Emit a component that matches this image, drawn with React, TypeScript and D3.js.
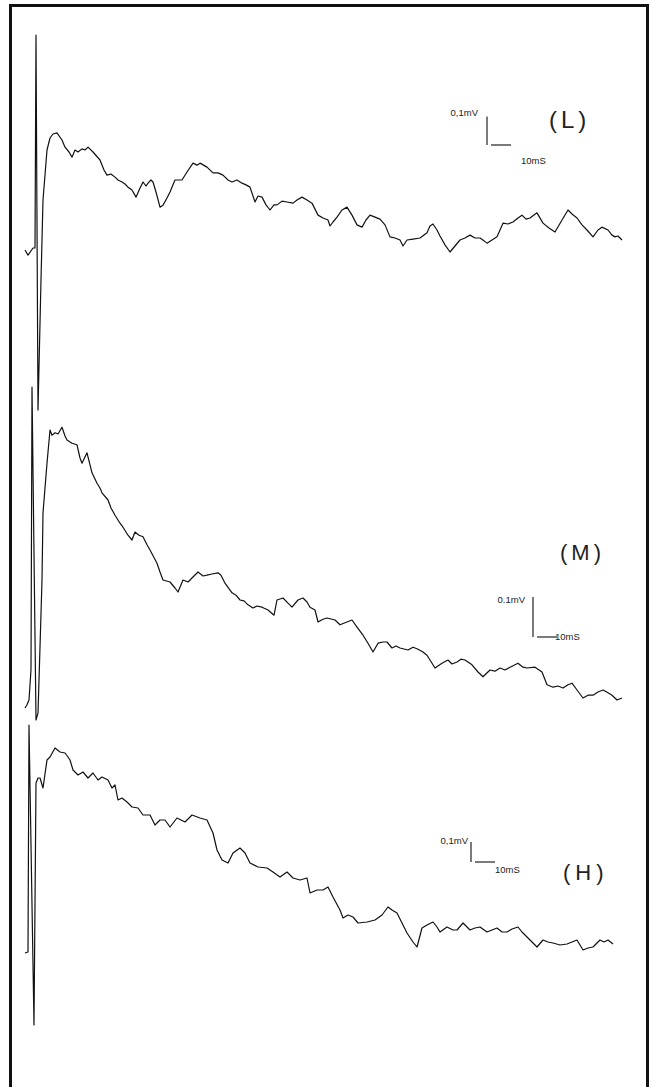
import React from 'react';
import * as d3 from 'd3';

// evoked potentials, three stimulus levels. samples are [time ms, amplitude µV]
const traceL: [number, number][] = [
  [0, 0], [1.5, -18], [4, 7], [5, 7], [5.5, 752], [6.5, -560], [8, -105], [9, 175], [11, 350],
  [12.5, 392], [14, 406], [16, 410], [18.5, 385], [20, 360], [22, 343], [23.5, 325], [25, 350],
  [26.5, 343], [28.5, 354], [30, 350], [31.5, 360], [34, 343], [37.5, 315], [39.5, 280], [41, 262],
  [43, 266], [45, 255], [46.5, 245], [48.5, 238], [50, 231], [51.5, 220], [53.5, 210], [55.5, 185],
  [57.5, 217], [59, 238], [60.5, 224], [61.5, 234], [63, 245], [64, 238], [65.5, 203], [67.5, 150],
  [69, 157], [71, 182], [72.5, 203], [75, 245], [78.5, 245], [81, 273], [84, 304], [86, 297],
  [87.5, 304], [91, 290], [94, 270], [96.5, 270], [99, 262], [101.5, 245], [103.5, 238], [106, 245],
  [108.5, 234], [110.5, 228], [112.5, 220], [115, 168], [116.5, 189], [118.5, 185], [120.5, 158],
  [122.5, 140], [124.5, 158], [126, 158], [128.5, 171], [131, 168], [134, 164], [136, 175],
  [138.5, 185], [141, 175], [143.5, 164], [146.5, 122], [149, 112], [151.5, 105], [152.5, 84],
  [154, 98], [156, 115], [158.5, 140], [161, 150], [163.5, 122], [166, 88], [168.5, 80], [170.5, 105],
  [172.5, 122], [175, 115], [177.5, 108], [180, 88], [182.5, 46], [185, 42], [187.5, 35], [189, 14],
  [191, 35], [194, 38], [197.5, 42], [201, 60], [202.5, 84], [204, 91], [206, 70], [207.5, 49],
  [210, 18], [212.5, -7], [215, 14], [217.5, 35], [220, 42], [222.5, 52], [225, 42], [227.5, 42],
  [229.5, 32], [231, 24], [233.5, 35], [236, 46], [237.5, 70], [239, 94], [241.5, 91], [244, 98],
  [246.5, 112], [248.5, 122], [250.5, 108], [252.5, 112], [256, 130], [259, 94], [262, 77], [265, 63],
  [268.5, 105], [271.5, 140], [273.5, 126], [276, 112], [278.5, 88], [281, 70], [284, 46],
  [286.5, 70], [288.5, 80], [291.5, 70], [293.5, 52], [295, 46], [296.5, 49], [298.5, 35],
];

const traceM: [number, number][] = [
  [0, 0], [1, 8], [2, 20], [3, 95], [3.5, 802], [5.5, -30], [6.5, -12], [7.5, 152], [8.5, 320],
  [9, 488], [11, 612], [12.5, 695], [13.5, 682], [15, 688], [16.5, 685], [18.5, 702], [20, 680],
  [21, 670], [23.5, 662], [26, 658], [27.5, 625], [28.5, 612], [31, 638], [32.5, 608], [33.5, 588],
  [36, 562], [37.5, 550], [38.5, 538], [41.5, 520], [43, 500], [45, 482], [47.5, 462], [49, 452],
  [51.5, 432], [53.5, 420], [55, 440], [57, 432], [59, 428], [61, 408], [62.5, 395], [66, 362],
  [67.5, 340], [69, 320], [72.5, 315], [75, 300], [76.5, 290], [79, 320], [81.5, 315], [83.5, 325],
  [86.5, 340], [89, 330], [91, 332], [93.5, 335], [96.5, 338], [98, 332], [100, 312], [103.5, 288],
  [105.5, 282], [107.5, 270], [109.5, 268], [111.5, 258], [114, 250], [116, 255], [118.5, 252],
  [121.5, 245], [124.5, 232], [126, 270], [129, 275], [131.5, 262], [133.5, 252], [136.5, 270],
  [139, 275], [141, 265], [142.5, 252], [145, 245], [146.5, 215], [149, 222], [151, 225], [155, 220],
  [157.5, 208], [161, 215], [163.5, 220], [166, 202], [169, 182], [171.5, 162], [174, 140],
  [176.5, 162], [179, 165], [181, 165], [183.5, 150], [185.5, 155], [187.5, 150], [191.5, 145],
  [194, 152], [196, 148], [199, 140], [201, 132], [202.5, 120], [205, 100], [208.5, 112],
  [211.5, 120], [213.5, 110], [216, 115], [218, 122], [220, 120], [223.5, 108], [226.5, 90],
  [229, 78], [232.5, 95], [235, 92], [237.5, 100], [240, 95], [242.5, 102], [246.5, 112], [249, 102],
  [251, 100], [255, 102], [258.5, 90], [261, 58], [264, 52], [266.5, 55], [269, 50], [271.5, 58],
  [273.5, 62], [276, 45], [279, 25], [281.5, 32], [284, 32], [286.5, 40], [289, 45], [291.5, 38],
  [293.5, 32], [296, 20], [298.5, 25],
];

const traceH: [number, number][] = [
  [0, 0], [1.5, 5], [2, 1140], [4.5, -360], [5.5, 850], [6.5, 875], [7.5, 875], [9, 825], [11, 965],
  [12.5, 980], [15, 1025], [17.5, 1005], [20, 1000], [21.5, 980], [22.5, 965], [24, 915], [26.5, 890],
  [29, 905], [31.5, 875], [34, 900], [36.5, 865], [38.5, 880], [41.5, 865], [43.5, 825], [45, 840],
  [46.5, 765], [48.5, 775], [51, 755], [53.5, 730], [56.5, 725], [59, 690], [62.5, 690], [65, 640],
  [67.5, 665], [70, 665], [72.5, 630], [76, 675], [80, 655], [83.5, 690], [87.5, 675], [91, 665],
  [94, 600], [96, 515], [98.5, 465], [101.5, 450], [104, 500], [107.5, 525], [110, 500], [112.5, 450],
  [116.5, 430], [121, 425], [124, 405], [127.5, 380], [131, 405], [134, 375], [137.5, 365], [141, 375],
  [142.5, 300], [146, 315], [149, 315], [151.5, 330], [154, 280], [157.5, 215], [159, 175],
  [161.5, 190], [164, 180], [166.5, 150], [171, 155], [175, 165], [178.5, 190], [181.5, 230],
  [183.5, 215], [186, 200], [188.5, 150], [191, 100], [194, 55], [196, 30], [198.5, 125], [201, 140],
  [204, 155], [206, 130], [207.5, 105], [211, 130], [214, 115], [216, 115], [219, 150], [222.5, 115],
  [225, 125], [227.5, 130], [231, 105], [233.5, 115], [236, 125], [238.5, 105], [241, 105],
  [243.5, 120], [246.5, 130], [248.5, 105], [251, 80], [253.5, 55], [256, 30], [259, 65], [261.5, 55],
  [264, 50], [267.5, 40], [271, 45], [273.5, 55], [276, 65], [279, 15], [281.5, 25], [284, 30],
  [287.5, 65], [289.5, 55], [291.5, 65], [294, 45],
];

const panelNames = ['(L)', '(M)', '(H)'];
const voltLabels = ['0,1mV', '0.1mV', '0,1mV'];
const timeLabels = ['10mS', '10mS', '10mS'];
const barVolt = 100; // µV
const barTime = 10; // ms

const W = 651;
const H = 1087;

const x = d3.scaleLinear().domain([0, 300]).range([25, 625]);

const panels = [
  {
    data: traceL,
    y: d3.scaleLinear().domain([0, 700]).range([250, 50]),
    bar: { x: 487, y: 145 },
    name: { x: 549, y: 128, size: 24, spacing: 4 },
    vLab: { x: 478, y: 116 },
    tLab: { x: 521, y: 164 },
  },
  {
    data: traceM,
    y: d3.scaleLinear().domain([0, 500]).range([708, 508]),
    bar: { x: 533, y: 637 },
    name: { x: 560, y: 560, size: 22, spacing: 4 },
    vLab: { x: 525, y: 603 },
    tLab: { x: 555, y: 640 },
  },
  {
    data: traceH,
    y: d3.scaleLinear().domain([0, 1000]).range([953, 753]),
    bar: { x: 471, y: 862 },
    name: { x: 563, y: 880, size: 22, spacing: 5 },
    vLab: { x: 468, y: 844 },
    tLab: { x: 495, y: 873 },
  },
];

export default function App() {
  return (
    <svg
      width={W}
      height={H}
      style={{ position: 'absolute', left: 0, top: 0, background: '#fff' }}
      fontFamily="'Liberation Sans', Arial, sans-serif"
    >
      <rect x={10.5} y={5.5} width={637} height={H + 20} fill="#fff" stroke="#111" strokeWidth={3} />
      {panels.map((p, i) => {
        const line = d3
          .line<[number, number]>()
          .x((d) => x(d[0]))
          .y((d) => p.y(d[1]));
        const vLen = p.y(0) - p.y(barVolt);
        const tLen = x(barTime) - x(0);
        return (
          <g key={i}>
            <path d={line(p.data) || ''} fill="none" stroke="#111" strokeWidth={1.2} strokeLinejoin="round" />
            {/* scale bar */}
            <line x1={p.bar.x} x2={p.bar.x} y1={p.bar.y - vLen} y2={p.bar.y} stroke="#222" strokeWidth={1.2} />
            <line x1={p.bar.x + 4} x2={p.bar.x + 4 + tLen} y1={p.bar.y} y2={p.bar.y} stroke="#222" strokeWidth={1.2} />
            <text x={p.vLab.x} y={p.vLab.y} fontSize={9.5} textAnchor="end" fill="#222">
              {voltLabels[i]}
            </text>
            <text x={p.tLab.x} y={p.tLab.y} fontSize={9.5} fill="#222">
              {timeLabels[i]}
            </text>
            <text x={p.name.x} y={p.name.y} fontSize={p.name.size} letterSpacing={p.name.spacing} fill="#222">
              {panelNames[i]}
            </text>
          </g>
        );
      })}
    </svg>
  );
}
